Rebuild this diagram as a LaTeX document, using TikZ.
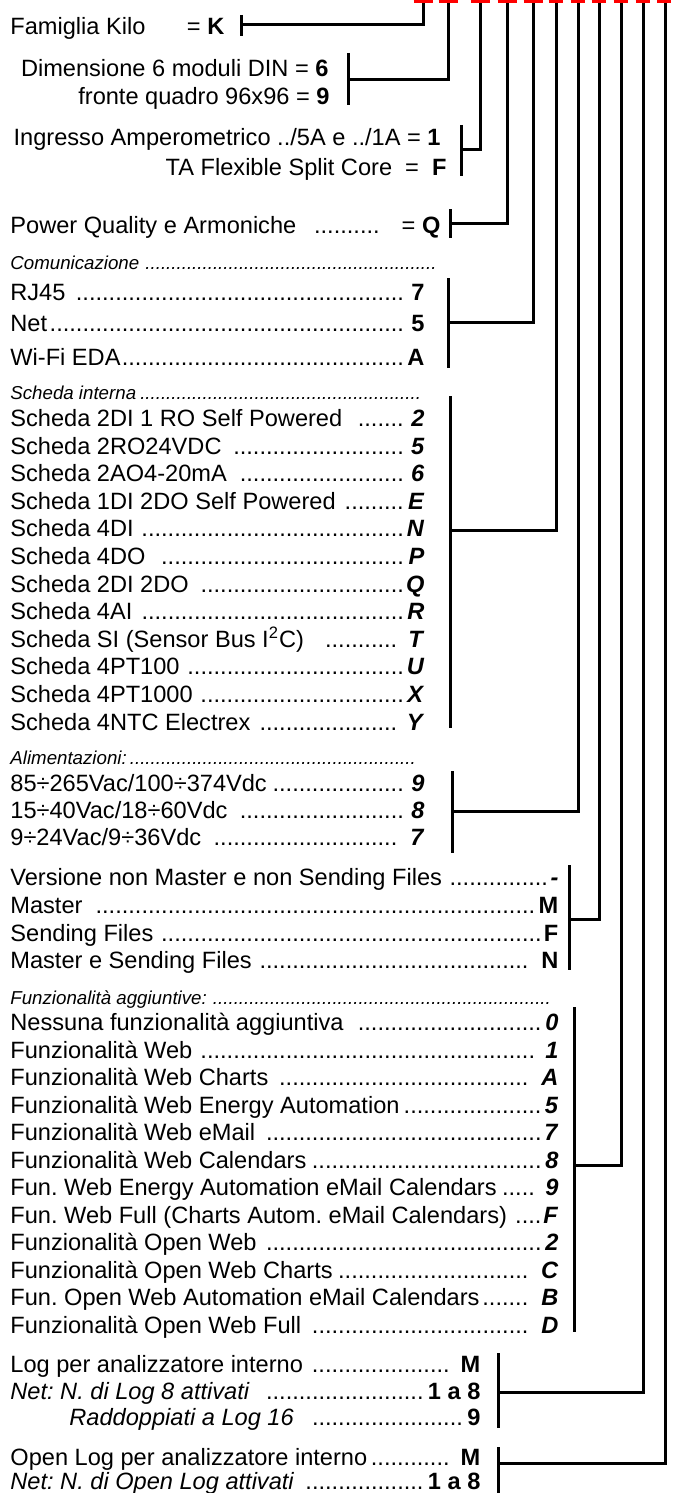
\documentclass[tikz,border=0pt]{standalone}
\usepackage{fontspec}
\setmainfont{Liberation Sans}
\frenchspacing
\newcommand{\puntini}{\leaders\hbox{.}\hfill}
\newcommand{\bi}[1]{\textbf{\textit{#1}}}
\newcommand{\redtick}[2]{ \draw[red, line width=1.5pt] (#1-#2, 1.5) -- (#1+#2, 1.5);}
\newcommand{\staffa}[6]{ \coordinate (#1-top) at (#2, 0); \coordinate (#1-join) at (#3, #6); \draw[wire] (#3, #4) -- (#3, #5); \draw[wire] (#1-top) |- (#1-join);}
\newcommand{\voce}[5]{ \node[row] (#1) at (10, #2) {\makebox[#3][l]{#4\puntini#5}};}

\begin{document}
\begin{tikzpicture}[x=0.5pt, y=-0.5pt,
  row/.style={anchor=base west, inner sep=0pt, font=\fontsize{11.8pt}{14pt}\selectfont},
  rrow/.style={row, anchor=base east},
  head/.style={row, font=\fontsize{9.35pt}{11pt}\selectfont\itshape},
  wire/.style={line width=1.5pt}]
\useasboundingbox (0,0) rectangle (673,1493);
%
\node[row] (fam) at (10,35) {\makebox[107pt][l]{Famiglia Kilo\hfill= \textbf{K}}};
\node[rrow] (dim) at (329,76.5) {Dimensione 6 moduli DIN = \textbf{6}};
\node[rrow] (fro) at (330,104.5) {fronte quadro 96x96 = \textbf{9}};
\node[rrow] (ing) at (441,145.5) {Ingresso Amperometrico ../5A e ../1A = \textbf{1}};
\node[rrow] (ta) at (447,175.5) {TA Flexible Split Core\ \ =\ \ \textbf{F}};
\node[row] (pq) at (10,233.5) {\makebox[215pt][l]{Power Quality e Armoniche\hfill..........\hspace{11pt}= \textbf{Q}}};
%
\node[head] (comh) at (10,269) {\makebox[215.5pt][l]{Comunicazione \puntini}};
\voce{rj}{300.5}{207pt}{RJ45 }{\ \textbf{7}}
\voce{net}{331.5}{207pt}{Net}{\ \textbf{5}}
\voce{wifi}{365.5}{207pt}{Wi-Fi EDA}{\textbf{A}}
%
\node[head] (schh) at (10,399) {\makebox[205.5pt][l]{Scheda interna\puntini}};
\voce{s1}{426.5}{207pt}{Scheda 2DI 1 RO Self Powered \ }{\ \bi{2}}
\voce{s2}{454.1}{207pt}{Scheda 2RO24VDC }{\ \bi{5}}
\voce{s3}{481.7}{207pt}{Scheda 2AO4-20mA }{\ \bi{6}}
\voce{s4}{509.3}{207pt}{Scheda 1DI 2DO Self Powered }{\bi{E}}
\voce{s5}{536.9}{207pt}{Scheda 4DI }{\bi{N}}
\voce{s6}{564.5}{207pt}{Scheda 4DO \ }{\bi{P}}
\voce{s7}{592.1}{207pt}{Scheda 2DI 2DO }{\bi{Q}}
\voce{s8}{619.7}{207pt}{Scheda 4AI }{\bi{R}}
\voce{s9}{647.3}{207pt}{Scheda SI (Sensor Bus I\textsuperscript{2}C) \ \ }{\ \bi{T}}
\voce{s10}{674.9}{207pt}{Scheda 4PT100 }{\bi{U}}
\voce{s11}{702.5}{207pt}{Scheda 4PT1000 }{\bi{X}}
\voce{s12}{730.1}{207pt}{Scheda 4NTC Electrex }{\ \bi{Y}}
%
\node[head] (alih) at (10,764.5) {\makebox[205pt][l]{Alimentazioni:\puntini}};
\voce{al1}{791.5}{207pt}{85÷265Vac/100÷374Vdc}{\ \bi{9}}
\voce{al2}{818.5}{207pt}{15÷40Vac/18÷60Vdc }{\ \bi{8}}
\voce{al3}{845.5}{207pt}{9÷24Vac/9÷36Vdc }{\ \bi{7}}
%
\voce{v1}{885.5}{274pt}{Versione non Master e non Sending Files }{\bi{-}}
\voce{v2}{913.5}{274pt}{Master }{\textbf{M}}
\voce{v3}{941.5}{274pt}{Sending Files }{\textbf{F}}
\voce{v4}{968.5}{274pt}{Master e Sending Files }{\ \textbf{N}}
%
\node[head] (funh) at (10,1004.5) {\makebox[270.5pt][l]{Funzionalità aggiuntive: \puntini}};
\voce{f1}{1030.5}{274pt}{Nessuna funzionalità aggiuntiva \ }{\bi{0}}
\voce{f2}{1058}{274pt}{Funzionalità Web }{\ \bi{1}}
\voce{f3}{1085.5}{274pt}{Funzionalità Web Charts }{\ \bi{A}}
\voce{f4}{1113}{274pt}{Funzionalità Web Energy Automation}{\bi{5}}
\voce{f5}{1140.5}{274pt}{Funzionalità Web eMail }{\bi{7}}
\voce{f6}{1168}{274pt}{Funzionalità Web Calendars}{\bi{8}}
\voce{f7}{1195.5}{274pt}{Fun. Web Energy Automation eMail Calendars}{\ \bi{9}}
\voce{f8}{1223}{274pt}{Fun. Web Full (Charts Autom. eMail Calendars) }{\bi{F}}
\voce{f9}{1250.5}{274pt}{Funzionalità Open Web }{\bi{2}}
\voce{f10}{1278}{274pt}{Funzionalità Open Web Charts}{\ \bi{C}}
\voce{f11}{1305.5}{274pt}{Fun. Open Web Automation eMail Calendars}{\ \bi{B}}
\voce{f12}{1333}{274pt}{Funzionalità Open Web Full }{\ \bi{D}}
%
\voce{lg1}{1372.5}{235pt}{Log per analizzatore interno }{\ \textbf{M}}
\voce{lg2}{1399.5}{235pt}{\textit{Net: N. di Log 8 attivati} \ }{\textbf{1 a 8}}
\node[row] (lg3) at (69,1425.5) {\makebox[205.5pt][l]{\textit{Raddoppiati a Log 16} \ \puntini\textbf{9}}};
\voce{ol1}{1465.5}{235pt}{Open Log per analizzatore interno}{\ \textbf{M}}
\voce{ol2}{1489.5}{235pt}{\textit{Net: N. di Open Log attivati} }{\textbf{1 a 8}}
%
\staffa{famiglia}{423}{241}{15}{36}{25}
\staffa{dimensione}{448}{348}{53}{105}{80}
\staffa{ingresso}{480}{461}{125}{176}{149}
\staffa{qualita}{507}{450}{209}{238}{223}
\staffa{comunic}{533}{448}{278}{368}{322}
\staffa{scheda}{556}{450}{396}{728}{530}
\staffa{alim}{578}{452}{771}{853}{811}
\staffa{versione}{599}{569}{865}{970}{919}
\staffa{funz}{621}{574}{1007}{1332}{1165}
\staffa{log}{643}{498}{1353}{1428}{1392}
\staffa{openlog}{665}{498}{1447}{1493}{1463}
%
\redtick{423}{9.5}
\redtick{448}{9.5}
\redtick{480}{9.5}
\redtick{507}{9.5}
\redtick{533}{9.5}
\redtick{556}{7.3}
\redtick{578}{7.3}
\redtick{599}{7.3}
\redtick{621}{7.3}
\redtick{643}{7.3}
\redtick{664}{7}

\end{tikzpicture}
\end{document}
